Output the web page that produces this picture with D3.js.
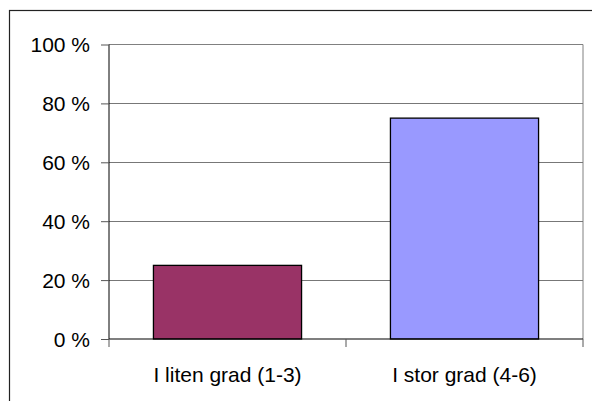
<!DOCTYPE html>
<html><head><meta charset="utf-8">
<script src="https://cdn.jsdelivr.net/npm/d3@7"></script>
<style>html,body{margin:0;padding:0;background:#fff;overflow:hidden}</style>
</head><body>
<svg id="c" width="592" height="401"></svg>
<script>
const categories = ["I liten grad (1-3)", "I stor grad (4-6)"];
const values = [25, 75];
const colors = ["#993366", "#9999FF"];
const yTicks = [0, 20, 40, 60, 80, 100];

const svg = d3.select("#c");
const L = 109, R = 583, T = 44.5, B = 339;
const font = "'Liberation Sans', Arial, sans-serif";

// outer chart frame (clipped at right/bottom)
svg.append("rect").attr("x", 9.5).attr("y", 10.5).attr("width", 620).attr("height", 420)
  .attr("fill", "none").attr("stroke", "#222").attr("stroke-width", 1.2);

const x = d3.scaleBand().domain(categories).range([L, R]).paddingInner(0.375).paddingOuter(0.1875);
const y = d3.scaleLinear().domain([0, 100]).range([B, T]);

// plot area border (top/right)
svg.append("path").attr("d", `M${L},${T}H${R}V${B}`).attr("fill", "none")
  .attr("stroke", "#808080").attr("stroke-width", 1);

// gridlines
svg.append("g").selectAll("line").data(yTicks.filter(d => d > 0 && d < 100)).join("line")
  .attr("x1", L).attr("x2", R).attr("y1", d => Math.round(y(d)) + 0.5).attr("y2", d => Math.round(y(d)) + 0.5)
  .attr("stroke", "#777").attr("stroke-width", 1);

// bars
svg.append("g").selectAll("rect").data(values).join("rect")
  .attr("x", (d, i) => x(categories[i]))
  .attr("y", d => y(d))
  .attr("width", x.bandwidth())
  .attr("height", d => B - y(d))
  .attr("fill", (d, i) => colors[i])
  .attr("stroke", "#000").attr("stroke-width", 1.3);

// y axis
const yAxis = d3.axisLeft(y).tickValues(yTicks).tickSize(8).tickPadding(11).tickFormat(d => d + " %");
const gy = svg.append("g").attr("transform", `translate(${L},0)`).call(yAxis);
gy.select(".domain").attr("stroke", "#000").attr("d", `M0,${T}V${B}`);
gy.selectAll(".tick line").attr("stroke", "#555");
gy.selectAll("text").attr("font-family", font).attr("font-size", 21).attr("fill", "#000").attr("dy", "0.35em");

// x axis
const boundaries = [L, (L + R) / 2, R];
svg.append("line").attr("x1", L).attr("x2", R).attr("y1", B).attr("y2", B).attr("stroke", "#000").attr("stroke-width", 1.2);
svg.append("g").selectAll("line").data(boundaries).join("line")
  .attr("x1", d => d).attr("x2", d => d).attr("y1", B).attr("y2", B + 8)
  .attr("stroke", "#555");
svg.append("g").selectAll("text").data(categories).join("text")
  .attr("x", d => x(d) + x.bandwidth() / 2)
  .attr("y", 382)
  .attr("text-anchor", "middle")
  .attr("font-family", font).attr("font-size", 21).attr("fill", "#000")
  .text(d => d);
</script>
</body></html>
